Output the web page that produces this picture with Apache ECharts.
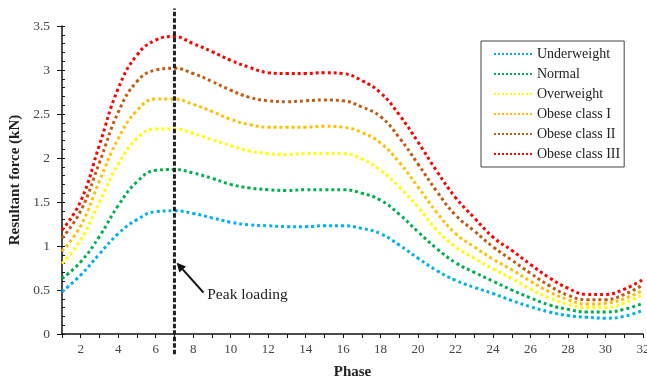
<!DOCTYPE html>
<html>
<head>
<meta charset="utf-8">
<script src="https://cdn.jsdelivr.net/npm/echarts@6/dist/echarts.min.js"></script>
<style>
	html, body { margin: 0; padding: 0; background: #fff; }
	#chart { width: 647px; height: 381px; }
</style>
</head>
<body>
<div id="chart"></div>
<script>
// phase 1..32
const phases = [1, 2, 3, 4, 5, 6, 7, 8, 9, 10, 11, 12, 13, 14, 15, 16, 17, 18, 19, 20, 21, 22, 23, 24, 25, 26, 27, 28, 29, 30, 31, 32];
const names = ['Underweight', 'Normal', 'Overweight', 'Obese class I', 'Obese class II', 'Obese class III'];
const colors = ['#00b0f0', '#00b050', '#ffff00', '#ffc000', '#c55a11', '#ff0000'];

const underweight = [0.48, 0.67, 0.91, 1.14, 1.30, 1.39, 1.40, 1.37, 1.32, 1.27, 1.24, 1.23, 1.22, 1.22, 1.23, 1.23, 1.20, 1.14, 1.01, 0.86, 0.72, 0.61, 0.53, 0.46, 0.38, 0.31, 0.25, 0.21, 0.19, 0.18, 0.20, 0.27];
const normal = [0.63, 0.82, 1.11, 1.46, 1.73, 1.86, 1.87, 1.83, 1.77, 1.70, 1.66, 1.64, 1.63, 1.64, 1.64, 1.64, 1.60, 1.52, 1.36, 1.16, 0.97, 0.81, 0.70, 0.60, 0.50, 0.41, 0.33, 0.28, 0.25, 0.25, 0.28, 0.35];
const overweight = [0.80, 1.07, 1.50, 1.93, 2.22, 2.33, 2.33, 2.28, 2.21, 2.14, 2.08, 2.05, 2.04, 2.05, 2.05, 2.05, 1.99, 1.86, 1.67, 1.44, 1.18, 0.99, 0.86, 0.74, 0.63, 0.51, 0.41, 0.34, 0.30, 0.30, 0.35, 0.45];
const obese1 = [0.94, 1.23, 1.74, 2.22, 2.54, 2.67, 2.67, 2.61, 2.53, 2.44, 2.38, 2.35, 2.35, 2.35, 2.36, 2.35, 2.29, 2.17, 1.95, 1.67, 1.38, 1.14, 0.99, 0.85, 0.73, 0.60, 0.48, 0.39, 0.34, 0.35, 0.40, 0.50];
const obese2 = [1.09, 1.40, 1.95, 2.52, 2.87, 3.00, 3.02, 2.96, 2.87, 2.77, 2.69, 2.65, 2.64, 2.65, 2.66, 2.65, 2.58, 2.47, 2.23, 1.93, 1.62, 1.35, 1.17, 0.99, 0.84, 0.69, 0.55, 0.44, 0.39, 0.39, 0.45, 0.56];
const obese3 = [1.18, 1.51, 2.15, 2.79, 3.17, 3.34, 3.38, 3.30, 3.21, 3.11, 3.03, 2.97, 2.96, 2.96, 2.97, 2.96, 2.88, 2.74, 2.49, 2.18, 1.85, 1.55, 1.32, 1.10, 0.95, 0.79, 0.64, 0.52, 0.45, 0.45, 0.51, 0.62];

// peak loading marker (phase, force)
const peakPhase = 7;
const peakLine = [[peakPhase, -0.23], [peakPhase, 3.70]];
const arrowTip = [7.12, 0.81];
const arrowTail = [8.55, 0.47];
const peakLabel = [8.75, 0.44];

const font = 'Liberation Serif';
const allData = [underweight, normal, overweight, obese1, obese2, obese3];

const chart = echarts.init(document.getElementById('chart'));

function getSeries() {
	const series = allData.map((v, i) => {
		return {
			name: names[i],
			type: 'line',
			smooth: 0.45,
			symbol: 'none',
			data: phases.map((p, j) => [p, v[j]]),
			lineStyle: { color: colors[i], width: 3, type: 'dotted' },
			itemStyle: { color: colors[i] }
		};
	});
	series.push({
		name: 'peak',
		type: 'line',
		symbol: 'none',
		clip: false,
		data: peakLine,
		lineStyle: { color: '#222', width: 3, type: [4.5, 2] },
		z: 5
	});
	return series;
}

chart.setOption({
	animation: false,
	textStyle: { fontFamily: font },
	grid: { left: 62, right: 4, top: 26, bottom: 47, outerBoundsMode: 'none', containLabel: false },
	legend: {
		orient: 'vertical',
		left: 481,
		top: 41,
		data: names,
		itemWidth: 38,
		itemHeight: 12,
		itemGap: 6,
		padding: [6, 4, 6, 12],
		borderColor: '#444',
		borderWidth: 1,
		backgroundColor: '#fff',
		itemStyle: { opacity: 0 },
		textStyle: { fontFamily: font, fontSize: 14, color: '#222' }
	},
	xAxis: {
		type: 'value',
		min: 1,
		max: 32,
		interval: 1,
		name: 'Phase',
		nameLocation: 'middle',
		nameGap: 31,
		nameTextStyle: { fontFamily: font, fontSize: 15, fontWeight: 'bold', color: '#222' },
		axisLine: { lineStyle: { color: '#111', width: 1.5 } },
		axisTick: { length: 4, lineStyle: { color: '#111' } },
		splitLine: { show: false },
		axisLabel: {
			margin: 9,
			fontSize: 13,
			color: '#444',
			formatter: (v) => (v % 2 === 0 ? String(v) : '')
		}
	},
	yAxis: [{
		type: 'value',
		min: 0,
		max: 3.5,
		interval: 0.5,
		name: 'Resultant force (kN)',
		nameLocation: 'middle',
		nameGap: 35,
		nameTextStyle: { fontFamily: font, fontSize: 15, fontWeight: 'bold', color: '#222' },
		axisLine: { show: true, lineStyle: { color: '#111', width: 1.5 } },
		axisTick: { show: true, length: 5, lineStyle: { color: '#111' } },
		splitLine: { show: false },
		axisLabel: { margin: 12, fontSize: 13.5, color: '#444' }
	}, {
		type: 'value',
		position: 'left',
		min: 0,
		max: 3.5,
		interval: 0.1,
		axisLine: { show: false },
		axisTick: { show: true, inside: true, length: 3, lineStyle: { color: '#111' } },
		axisLabel: { show: false },
		splitLine: { show: false }
	}],
	series: getSeries()
});

// arrow + label placed through the chart's own scales
function drawAnnotation() {
	const tip = chart.convertToPixel({ gridIndex: 0 }, arrowTip);
	const tail = chart.convertToPixel({ gridIndex: 0 }, arrowTail);
	const lab = chart.convertToPixel({ gridIndex: 0 }, peakLabel);
	const dx = tip[0] - tail[0];
	const dy = tip[1] - tail[1];
	const len = Math.sqrt(dx * dx + dy * dy);
	const ux = dx / len;
	const uy = dy / len;
	const headLen = 9;
	const headW = 4.5;
	const bx = tip[0] - ux * headLen;
	const by = tip[1] - uy * headLen;
	chart.setOption({
		graphic: [{
			type: 'line',
			shape: { x1: tail[0], y1: tail[1], x2: bx, y2: by },
			style: { stroke: '#111', lineWidth: 2 },
			z: 10
		}, {
			type: 'polygon',
			shape: {
				points: [
					[tip[0], tip[1]],
					[bx - uy * headW, by + ux * headW],
					[bx + uy * headW, by - ux * headW]
				]
			},
			style: { fill: '#111' },
			z: 10
		}, {
			type: 'text',
			x: lab[0],
			y: lab[1],
			style: {
				text: 'Peak loading',
				font: '15.5px "Liberation Serif"',
				fill: '#222',
				verticalAlign: 'middle',
				align: 'left'
			},
			z: 10
		}]
	});
}
drawAnnotation();
</script>
</body>
</html>
